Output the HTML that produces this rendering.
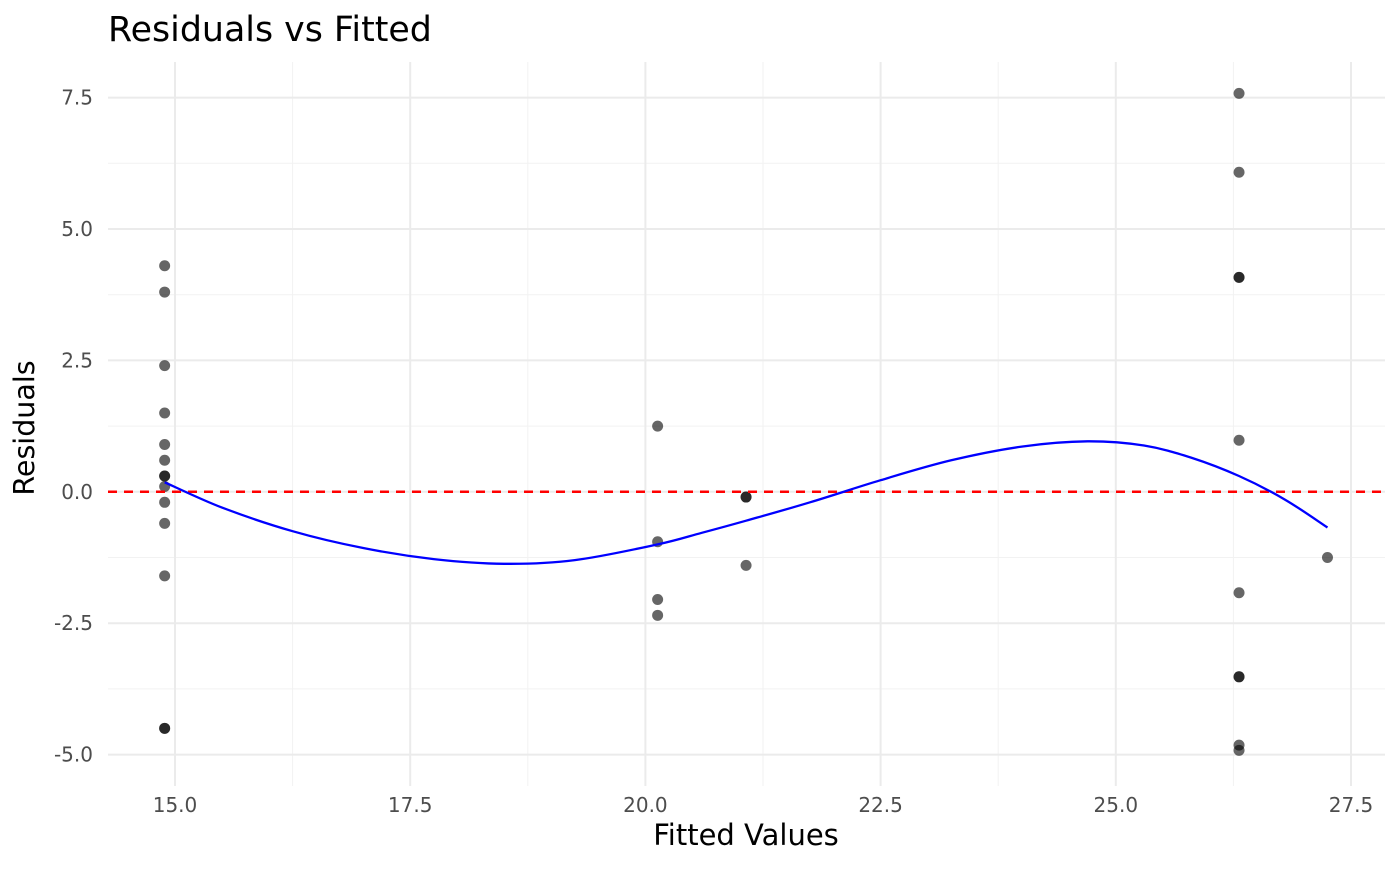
<!DOCTYPE html>
<html><head><meta charset="utf-8"><style>
body{margin:0;background:#fff;font-family:"DejaVu Sans","Liberation Sans",sans-serif;}
</style></head><body>
<svg id="chart" width="1400" height="866" xmlns="http://www.w3.org/2000/svg">
<rect width="1400" height="866" fill="#fff"/>
<g id="grid"></g><g id="marks"></g><g id="axes"></g>
<text x="108" y="41" font-size="34.8" fill="#000">Residuals vs Fitted</text>
<text x="746" y="845" font-size="29" text-anchor="middle" fill="#000">Fitted Values</text>
<text transform="translate(34,428) rotate(-90)" font-size="28.5" text-anchor="middle" fill="#000">Residuals</text>
</svg>
<script>
const fittedX=[14.89,14.89,14.89,14.89,14.89,14.89,14.89,14.89,14.89,14.89,14.89,14.89,14.89,14.89,20.13,20.13,20.13,20.13,21.07,21.07,21.07,26.31,26.31,26.31,26.31,26.31,26.31,26.31,26.31,26.31,26.31,27.25];
const residY=[4.3,3.8,2.4,1.5,0.9,0.6,0.3,0.3,0.1,-0.2,-0.6,-1.6,-4.5,-4.5,1.25,-0.95,-2.05,-2.35,-0.1,-0.1,-1.4,7.58,6.08,4.08,4.08,0.98,-1.92,-3.52,-3.52,-4.82,-4.92,-1.25];
const smoothX=[14.89,15.5,16.25,17,17.75,18.5,19.25,20.13,20.6,21.07,21.75,22.5,23.25,24,24.7,25.3,25.8,26.31,26.8,27.25];
const smoothY=[0.18,-0.3,-0.75,-1.07,-1.28,-1.37,-1.3,-1.0,-0.78,-0.55,-0.2,0.22,0.6,0.86,0.96,0.88,0.65,0.3,-0.15,-0.68];
const xTicks=[15,17.5,20,22.5,25,27.5];
const xTickLabels=["15.0","17.5","20.0","22.5","25.0","27.5"];
const yTicks=[-5,-2.5,0,2.5,5,7.5];
const yTickLabels=["-5.0","-2.5","0.0","2.5","5.0","7.5"];
const sx=v=>175+(v-15)*94.08;
const sy=v=>491.8-v*52.56;
const NS="http://www.w3.org/2000/svg";
function mk(p,t,a){const e=document.createElementNS(NS,t);for(const k in a)e.setAttribute(k,a[k]);p.appendChild(e);return e;}
const grid=document.getElementById('grid'),marks=document.getElementById('marks'),axes=document.getElementById('axes');
const L=108,R=1385,T=62,B=786;
for(let i=0;i<xTicks.length-1;i++){const m=(xTicks[i]+xTicks[i+1])/2;const g=mk(grid,'line',{x1:sx(m),x2:sx(m),y1:T,y2:B,stroke:'#f2f2f2','stroke-width':1});

}
for(let i=0;i<yTicks.length-1;i++){const m=(yTicks[i]+yTicks[i+1])/2;const g=mk(grid,'line',{x1:L,x2:R,y1:sy(m),y2:sy(m),stroke:'#f2f2f2','stroke-width':1});

}
xTicks.forEach((v,i)=>{const g=mk(grid,'line',{x1:sx(v),x2:sx(v),y1:T,y2:B,stroke:'#ebebeb','stroke-width':2});


const t=mk(axes,'text',{x:sx(v),y:812,'font-size':20,'text-anchor':'middle',fill:'#4d4d4d'});t.textContent=xTickLabels[i];

});
yTicks.forEach((v,i)=>{const g=mk(grid,'line',{x1:L,x2:R,y1:sy(v),y2:sy(v),stroke:'#ebebeb','stroke-width':2});


const t=mk(axes,'text',{x:93,y:sy(v)+7,'font-size':20,'text-anchor':'end',fill:'#4d4d4d'});t.textContent=yTickLabels[i];

});
fittedX.forEach((v,i)=>{const c=mk(marks,'circle',{cx:sx(v),cy:sy(residY[i]),r:5.5,fill:'#000','fill-opacity':0.6});

});
const h=mk(marks,'line',{x1:L,x2:R,y1:sy(0),y2:sy(0),stroke:'#ff0000','stroke-width':2.5,'stroke-dasharray':'9,7'});


const P=smoothX.map((v,i)=>[sx(v),sy(smoothY[i])]);
let d='M'+P[0][0].toFixed(1)+','+P[0][1].toFixed(1);
for(let i=0;i<P.length-1;i++){const p0=P[Math.max(0,i-1)],p1=P[i],p2=P[i+1],p3=P[Math.min(P.length-1,i+2)];
const c1=[p1[0]+(p2[0]-p0[0])/6,p1[1]+(p2[1]-p0[1])/6],c2=[p2[0]-(p3[0]-p1[0])/6,p2[1]-(p3[1]-p1[1])/6];
d+=' C'+c1[0].toFixed(1)+','+c1[1].toFixed(1)+' '+c2[0].toFixed(1)+','+c2[1].toFixed(1)+' '+p2[0].toFixed(1)+','+p2[1].toFixed(1);}
const p=mk(marks,'path',{d:d,fill:'none',stroke:'#0000ff','stroke-width':2.3});


</script>
</body></html>
